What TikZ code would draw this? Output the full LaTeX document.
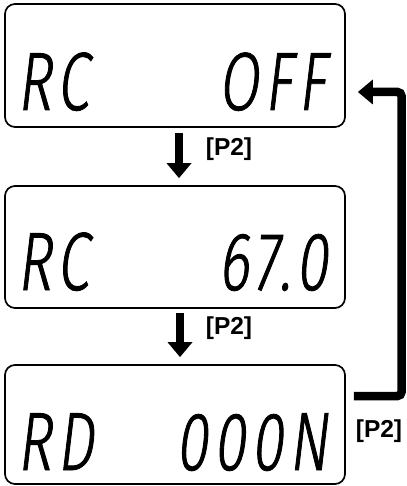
\documentclass[tikz,border=0pt]{standalone}
\usepackage{fontspec}
\usetikzlibrary{arrows.meta}
\newfontfamily\lcdfont[FakeStretch=0.7,FakeSlant=0.12,FakeBold=1,LetterSpace=7]{Fira Sans Light}
\newfontfamily\labfont{Liberation Sans}
\begin{document}
\begin{tikzpicture}[x=1pt,y=-1pt,
  lcdbox/.style={draw, line width=1.7pt, rounded corners=10pt, minimum width=340pt, inner sep=0pt},
  lcdtext/.style={inner sep=0pt, font=\lcdfont\fontsize{82.7}{90}\selectfont},
  keylabel/.style={inner sep=0pt, font=\labfont\bfseries\fontsize{24.5}{27}\selectfont},
  bigarrow/.style={line width=8.5pt, -{Triangle[width=24pt,length=15pt]}}]
\useasboundingbox (0,0) rectangle (406,486);
\node[lcdbox, minimum height=123pt] (box1) at (175,65.5) {};
\node[lcdbox, minimum height=122pt] (box2) at (175,247) {};
\node[lcdbox, minimum height=119pt] (box3) at (175,424.5) {};
% display texts
\node[lcdtext, anchor=base west] (t1a) at (17,110) {RC};
\node[lcdtext, anchor=base east] (t1b) at (326,110) {OFF};
\node[lcdtext, anchor=base west] (t2a) at (17,290) {RC};
\node[lcdtext, anchor=base east] (t2b) at (328,290) {67.0};
\node[lcdtext, anchor=base west] (t3a) at (17,470) {RD};
\node[lcdtext, anchor=base east] (t3b) at (328,470) {000N};
% arrows
\draw[bigarrow] ([xshift=4pt,yshift=-5pt]box1.south) -- ([xshift=4pt,yshift=7pt]box2.north);
\draw[bigarrow] ([xshift=5pt,yshift=-4pt]box2.south) -- ([xshift=5pt,yshift=7pt]box3.north);
\coordinate (rt) at (401.5,92);
\draw[bigarrow, rounded corners=4pt] ([xshift=8pt,yshift=28.5pt]box3.east) -| (rt) -- ([xshift=12pt,yshift=-26.5pt]box1.east);
% labels
\node[keylabel] (l1) at (229,149) {[P2]};
\node[keylabel] (l2) at (229,328) {[P2]};
\node[keylabel] (l3) at (379,431) {[P2]};
\end{tikzpicture}
\end{document}
